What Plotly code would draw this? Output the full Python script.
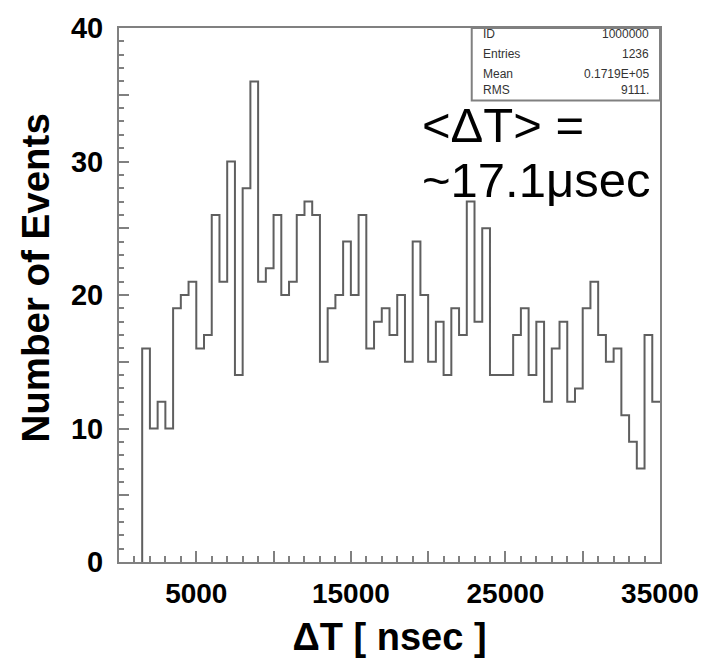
import plotly.graph_objects as go

# ---- data ----
bin_start = 1500          # ns, first non-empty bin edge
bin_width = 500           # ns
counts = [16, 10, 12, 10, 19, 20, 21, 16, 17, 26, 21, 30, 14, 28, 36, 21, 22, 26, 20, 21, 26, 27, 26,
          15, 19, 20, 24, 20, 26, 16, 18, 19, 17, 20, 15, 24, 20, 15, 18, 14, 19, 17, 27, 18, 25,
          14, 14, 14, 17, 19, 14, 18, 12, 16, 18, 12, 13, 19, 21, 17, 15, 16, 11, 9, 7, 17, 12]

x_tickvals = [0, 5000, 10000, 15000, 20000, 25000, 30000, 35000]
x_ticktext = ["", "5000", "", "15000", "", "25000", "", "35000"]
y_labelled = [0, 10, 20, 30, 40]
y_major = [0, 5, 10, 15, 20, 25, 30, 35, 40]
y_all = list(range(0, 41))
y_alltext = [str(v) if v in y_labelled else "" for v in y_all]

stats_labels = ["ID", "Entries", "Mean", "RMS"]
stats_values = ["1000000", "1236", "0.1719E+05", "9111."]

# ---- build step outline ----
edges = [bin_start + i * bin_width for i in range(len(counts) + 1)]
xs = [edges[0]] + edges
ys = [0] + counts + [counts[-1]]

FONT = "Liberation Sans, Arial, sans-serif"
FRAME = "#808080"

fig = go.Figure()
fig.add_trace(go.Scatter(x=xs, y=ys, mode="lines", line=dict(shape="hv", color="#5f5f5f", width=2),
                         hoverinfo="skip", showlegend=False))
# invisible point on the overlay axis carrying the longer (every-5) y ticks
fig.add_trace(go.Scatter(x=[edges[0]], y=[0], mode="markers", marker=dict(opacity=0), yaxis="y2",
                         xaxis="x", hoverinfo="skip", showlegend=False))

fig.update_layout(
    width=711, height=663, autosize=False,
    margin=dict(l=119, r=46, t=23, b=95),
    paper_bgcolor="white", plot_bgcolor="white",
    font=dict(family=FONT, color="black"),
    showlegend=False,
    xaxis=dict(
        range=[0, 35000], showgrid=False, zeroline=False,
        showline=True, linecolor=FRAME, linewidth=2, mirror=True,
        tickmode="array", tickvals=x_tickvals, ticktext=x_ticktext,
        ticks="inside", ticklen=11, tickwidth=1.5, tickcolor=FRAME,
        minor=dict(tickmode="linear", dtick=1000, tick0=0, ticks="inside", ticklen=6, tickwidth=1.5,
                   tickcolor=FRAME, showgrid=False),
        tickfont=dict(family=FONT, size=28, weight="bold", color="black"),
        ticklabelstandoff=5,
        title=dict(text="ΔT [ nsec ]", font=dict(family=FONT, size=38, weight="bold", color="black"),
                   standoff=16),
    ),
    yaxis=dict(
        range=[0, 40], showgrid=False, zeroline=False,
        showline=True, linecolor=FRAME, linewidth=2, mirror=True,
        tickmode="array", tickvals=y_all, ticktext=y_alltext,
        ticks="inside", ticklen=5, tickwidth=1.5, tickcolor=FRAME,
        tickfont=dict(family=FONT, size=29, weight="bold", color="black"),
        ticklabelstandoff=8,
    ),
    yaxis2=dict(
        overlaying="y", anchor="x", side="left", range=[0, 40],
        tickmode="array", tickvals=y_major, showticklabels=False,
        ticks="inside", ticklen=10, tickwidth=1.5, tickcolor=FRAME,
        showgrid=False, zeroline=False, showline=False,
    ),
)

# y-axis title placed to match the reference (slightly above axis centre)
fig.add_annotation(xref="paper", yref="paper", x=(35 - 119) / 546, y=(568 - 278) / 545,
                   text="Number of Events", textangle=-90, showarrow=False,
                   xanchor="center", yanchor="middle",
                   font=dict(family=FONT, size=38.5, weight="bold", color="black"))

# stats box
fig.add_shape(type="rect", xref="paper", yref="paper", x0=0.652, x1=1.0, y0=0.864, y1=1.0,
              line=dict(color=FRAME, width=2), fillcolor="white", layer="above")
row_y = [0.988, 0.951, 0.914, 0.884]
for lab, val, yy in zip(stats_labels, stats_values, row_y):
    fig.add_annotation(xref="paper", yref="paper", x=0.670, y=yy, text=lab, showarrow=False,
                       xanchor="left", yanchor="middle", font=dict(family=FONT, size=12, color="#333"))
    fig.add_annotation(xref="paper", yref="paper", x=0.984, y=yy, text=val, showarrow=False,
                       xanchor="right", yanchor="middle", font=dict(family=FONT, size=12, color="#333"))

# mean annotation
fig.add_annotation(xref="paper", yref="paper", x=0.557, y=0.819, text="&lt;ΔT&gt; =", showarrow=False,
                   xanchor="left", yanchor="middle", font=dict(family=FONT, size=49, color="black"))
fig.add_annotation(xref="paper", yref="paper", x=0.557, y=0.716, text="~17.1μsec", showarrow=False,
                   xanchor="left", yanchor="middle", font=dict(family=FONT, size=49, color="black"))

fig.write_html("out.html")
